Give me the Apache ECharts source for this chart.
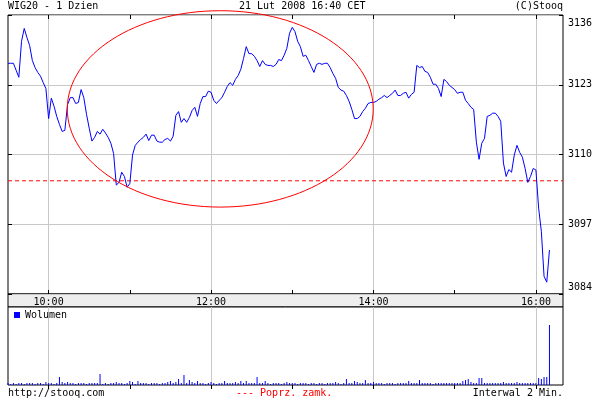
<!DOCTYPE html>
<html><head><meta charset="utf-8">
<script src="https://cdn.jsdelivr.net/npm/echarts@6/dist/echarts.min.js"></script>
<style>html,body{margin:0;padding:0;background:#fff}#c{width:600px;height:400px}</style>
</head><body><div id="c"></div>
<script>
// ---- data ----
const startMinute = 570;   // 9:30
const stepMinutes = 2;
const prices = [
3127.0,3127.0,3127.0,3125.7,3124.4,3131.1,3133.5,3131.8,3130.3,3127.5,
3126.2,3125.3,3124.6,3123.4,3122.3,3116.7,3120.5,3119.0,3117.1,3115.6,
3114.3,3114.5,3119.3,3120.6,3120.6,3119.5,3119.7,3122.1,3120.6,3117.5,
3114.9,3112.5,3113.2,3114.3,3113.8,3114.7,3114.0,3113.2,3112.1,3110.2,
3104.3,3104.8,3106.7,3105.9,3103.9,3104.6,3109.9,3111.7,3112.3,3112.8,
3113.2,3113.8,3112.6,3113.6,3113.6,3112.5,3112.3,3112.3,3112.8,3113.0,
3112.5,3113.4,3117.3,3118.0,3116.0,3116.7,3116.0,3116.9,3118.2,3118.8,
3117.1,3119.5,3120.8,3120.8,3121.8,3121.6,3120.1,3119.5,3120.1,3120.6,
3121.6,3122.7,3123.4,3122.9,3124.0,3124.7,3125.9,3127.9,3130.1,3128.8,
3128.8,3128.3,3127.5,3126.4,3127.5,3126.8,3126.6,3126.6,3126.4,3126.8,
3127.7,3127.5,3128.5,3129.8,3132.6,3133.7,3132.9,3131.1,3130.1,3128.3,
3128.5,3127.5,3126.4,3125.3,3126.8,3127.0,3126.8,3127.0,3127.0,3126.2,
3125.1,3124.2,3122.5,3122.0,3121.8,3121.0,3119.9,3118.4,3116.7,3116.7,
3117.1,3118.0,3118.6,3119.5,3119.7,3119.7,3119.9,3120.3,3120.6,3121.0,
3120.6,3121.0,3121.4,3122.0,3121.0,3121.0,3121.4,3121.6,3120.5,3121.2,
3121.6,3126.6,3126.2,3126.4,3125.5,3125.3,3124.4,3123.1,3123.1,3122.3,
3120.8,3124.0,3123.6,3122.9,3122.5,3122.1,3121.4,3121.6,3121.6,3120.1,
3119.5,3118.8,3118.4,3112.3,3109.1,3112.1,3113.0,3117.1,3117.3,3117.7,
3117.7,3117.1,3116.2,3108.4,3105.9,3107.2,3106.7,3109.9,3111.7,3110.4,
3109.5,3107.4,3104.8,3105.9,3107.4,3107.1,3100.0,3095.7,3087.3,3086.2,3092.2
];
const volumes = [
2,1,2,1,2,2,1,2,2,2,
1,2,2,1,3,2,2,1,2,8,
3,2,3,2,2,1,2,2,2,1,
2,2,2,2,11,1,2,1,2,2,
3,2,2,1,2,4,3,1,4,2,
2,2,1,2,2,2,1,2,2,3,
4,2,3,6,2,10,2,5,3,2,
4,2,2,1,2,3,2,1,2,2,
4,2,2,2,3,2,4,2,4,2,
2,2,8,2,2,4,2,1,2,2,
2,1,2,3,2,2,2,1,2,2,
2,1,2,2,1,2,2,1,2,2,
2,3,2,1,2,6,2,2,4,3,
2,2,5,2,2,3,2,2,2,1,
2,2,2,1,2,2,2,2,4,2,
2,2,5,2,2,2,2,1,2,2,
2,2,2,2,2,2,2,2,4,5,
6,3,2,2,7,7,2,2,2,2,
2,2,2,3,2,2,2,2,3,2,
2,2,2,2,2,2,7,6,8,8,60
];
const prevClose = 3105.1;
const yTicks = [3084, 3097, 3110, 3123, 3136];
const hourTicks = [600, 660, 720, 780, 840, 900, 960];
const timeLabels = [600, 720, 840, 960];
const xMin = 570, xMax = 980;
const yMin = 3084, yMax = 3136;
const volMax = 78;
// annotation ellipse (data space: minutes / index points)
const ellipseCenter = [726.8, 3118.5];
const ellipseRadius = [113, 18.3];

const titleLeft = 'WIG20 - 1 Dzien';
const titleCenter = '21 Lut 2008 16:40 CET';
const titleRight = '(C)Stooq';
const footerLeft = 'http://stooq.com';
const footerCenter = '--- Poprz. zamk.';
const footerRight = 'Interwal 2 Min.';
const volumeName = 'Wolumen';

// ---- chart ----
const times = prices.map((_, i) => startMinute + i * stepMinutes);
const priceData = prices.map((v, i) => [times[i], v]);
const volData = volumes.map((v, i) => [times[i], v]);
const FONT = 'DejaVu Sans Mono';
const txt = (c) => ({fontFamily: FONT, fontSize: 10, fontWeight: 'normal', color: c || '#000'});
const fmtTime = v => Math.floor(v / 60) + ':' + String(v % 60).padStart(2, '0');
const GRID_LINE = '#c8c8c8';
const RED = '#ff0000';

const chart = echarts.init(document.getElementById('c'));
const hiddenAxis = {axisLine:{show:false}, axisTick:{show:false}, axisLabel:{show:false}, splitLine:{show:false}};

chart.setOption({
  animation: false,
  backgroundColor: '#fff',
  title: [
    {text: titleLeft, left: 8, top: 1, padding: 0, textStyle: txt()},
    {text: titleCenter, left: 239, top: 1, padding: 0, textStyle: txt()},
    {text: titleRight, right: 37, top: 1, padding: 0, textStyle: txt()},
    {text: footerLeft, left: 8, top: 388, padding: 0, textStyle: txt()},
    {text: footerCenter, left: 236, top: 388, padding: 0, textStyle: txt(RED)},
    {text: footerRight, right: 37, top: 388, padding: 0, textStyle: txt()}
  ],
  legend: {
    data: [volumeName], left: 14, top: 310, padding: 0, icon: 'rect',
    itemWidth: 6, itemHeight: 6, itemGap: 4, textStyle: txt(), selectedMode: false
  },
  grid: [
    {left: 8, right: 37, top: 15, height: 279, show: true, borderColor: '#000', borderWidth: 1, backgroundColor: '#fff'},
    {left: 8, right: 37, top: 294, height: 13, show: true, borderColor: '#000', borderWidth: 1, backgroundColor: '#eeeeee'},
    {left: 8, right: 37, top: 307, height: 78, show: true, borderColor: '#000', borderWidth: 1, backgroundColor: '#fff'}
  ],
  xAxis: [
    {type: 'value', gridIndex: 0, min: xMin, max: xMax, position: 'bottom',
     axisLine: {show: false},
     axisTick: {show: true, inside: true, length: 4, customValues: hourTicks, lineStyle: {color: '#000'}},
     axisLabel: {show: true, customValues: timeLabels, formatter: fmtTime, margin: 3, ...txt()},
     splitLine: {show: false}},
    {type: 'value', gridIndex: 0, min: xMin, max: xMax, position: 'top',
     axisLine: {show: false},
     axisTick: {show: true, inside: true, length: 4, customValues: hourTicks, lineStyle: {color: '#000'}},
     axisLabel: {show: false}, splitLine: {show: false}},
    {type: 'value', gridIndex: 0, min: xMin, max: xMax, position: 'bottom', ...hiddenAxis,
     axisTick: {show: false, customValues: timeLabels},
     splitLine: {show: true, lineStyle: {color: GRID_LINE, width: 1}}},
    {type: 'value', gridIndex: 2, min: xMin, max: xMax, position: 'top',
     axisLine: {show: false},
     axisTick: {show: true, inside: true, length: 4, customValues: hourTicks, lineStyle: {color: '#000'}},
     axisLabel: {show: false}, splitLine: {show: false}},
    {type: 'value', gridIndex: 2, min: xMin, max: xMax, position: 'bottom', ...hiddenAxis,
     axisTick: {show: false, customValues: timeLabels},
     splitLine: {show: true, lineStyle: {color: GRID_LINE, width: 1}}}
  ],
  yAxis: [
    {type: 'value', gridIndex: 0, min: yMin, max: yMax, position: 'right',
     axisLine: {show: false},
     axisTick: {show: true, inside: true, length: 4, customValues: yTicks, lineStyle: {color: '#000'}},
     axisLabel: {show: true, customValues: yTicks, margin: 5, ...txt(),
       formatter: v => v === yMax ? '{t|' + v + '}' : (v === yMin ? '{b|' + v + '}' : String(v)),
       rich: {t: {padding: [16, 0, 0, 0], ...txt()}, b: {padding: [0, 0, 14, 0], ...txt()}}},
     splitLine: {show: true, lineStyle: {color: GRID_LINE, width: 1}}},
    {type: 'value', gridIndex: 0, min: yMin, max: yMax, position: 'left',
     axisLine: {show: false},
     axisTick: {show: true, inside: true, length: 4, customValues: yTicks, lineStyle: {color: '#000'}},
     axisLabel: {show: false}, splitLine: {show: false}},
    {type: 'value', gridIndex: 2, min: 0, max: volMax, ...hiddenAxis}
  ],
  series: [
    {name: 'Poprz. zamk.', type: 'line', xAxisIndex: 0, yAxisIndex: 0,
     data: [[xMin, prevClose], [xMax, prevClose]],
     showSymbol: false, symbol: 'none', silent: true, z: 2,
     color: RED, itemStyle: {color: RED},
     lineStyle: {color: RED, type: [4, 3], width: 1}},
    {name: 'WIG20', type: 'line', xAxisIndex: 0, yAxisIndex: 0, data: priceData,
     showSymbol: false, symbol: 'none', lineStyle: {color: '#0000ff', width: 1}, itemStyle: {color: '#0000ff'},
     z: 3},
    {name: volumeName, type: 'bar', xAxisIndex: 3, yAxisIndex: 2, data: volData,
     barWidth: 1, itemStyle: {color: '#0000ff'}}
  ]
});

const c = chart.convertToPixel({xAxisIndex: 0, yAxisIndex: 0}, ellipseCenter);
const e = chart.convertToPixel({xAxisIndex: 0, yAxisIndex: 0},
  [ellipseCenter[0] + ellipseRadius[0], ellipseCenter[1] - ellipseRadius[1]]);
chart.setOption({
  graphic: [{type: 'ellipse', z: 100, silent: true,
    shape: {cx: c[0], cy: c[1], rx: Math.abs(e[0] - c[0]), ry: Math.abs(e[1] - c[1])},
    style: {fill: 'none', stroke: RED, lineWidth: 1}}]
});
</script>
</body></html>
